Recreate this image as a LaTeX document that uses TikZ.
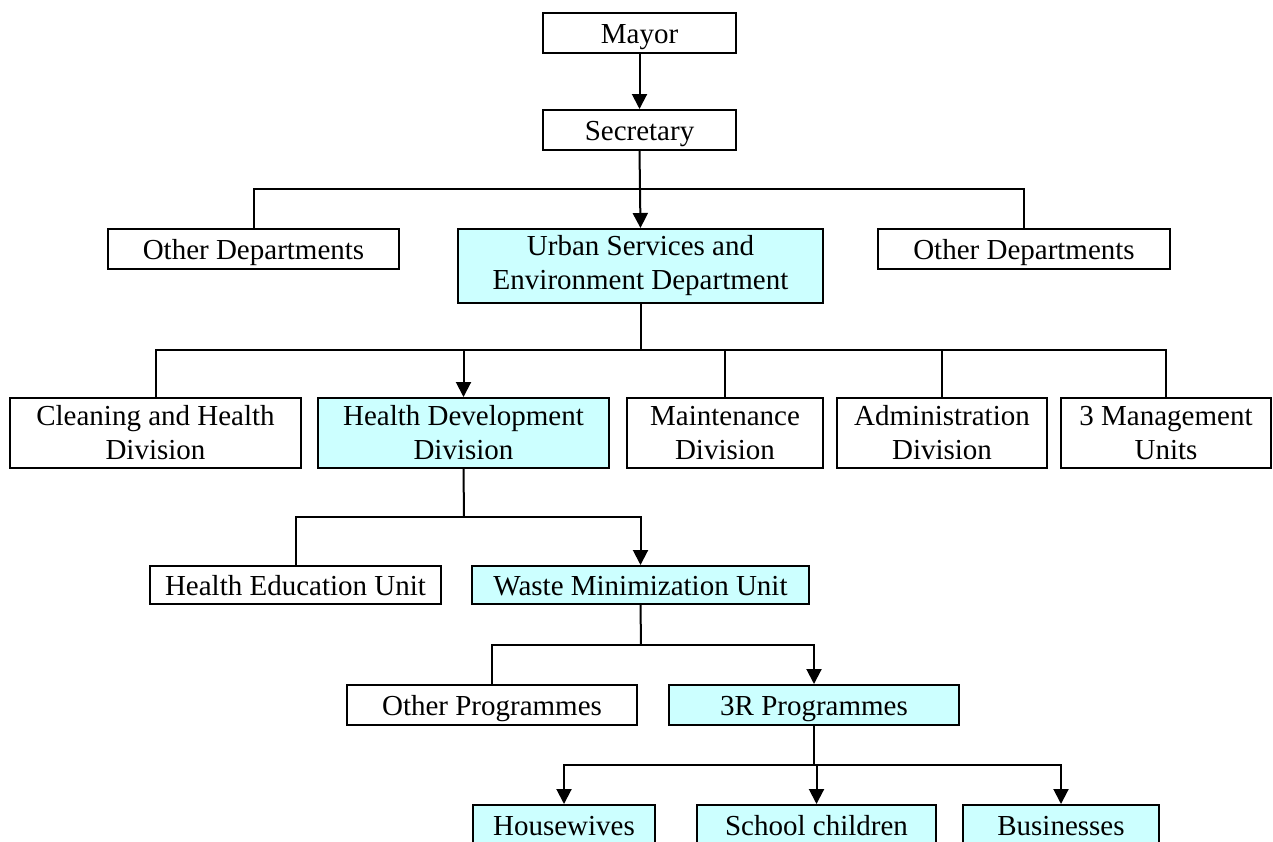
\documentclass[tikz,border=0pt]{standalone}
\usepackage{fontspec}
\setmainfont{Liberation Serif}
\usepackage{tikz}
\usetikzlibrary{arrows.meta}
\usetikzlibrary{positioning}
\definecolor{unitcyan}{RGB}{204,255,255}
\tikzset{box/.style = {draw, line width = 1pt, inner sep = 0, minimum height = 20pt,
                       align = center, font = \fontsize{14.5}{17}\selectfont}}
\tikzset{hl/.style = {box, fill = unitcyan}}
\tikzset{single/.style = {text height = 11pt, text depth = 1pt}}
\tikzset{arr/.style = {-{Triangle[length=7.5pt, width=7.5pt]}}}
\tikzset{link/.style = {line width = 1pt}}

\begin{document}
\begin{tikzpicture}[x = 0.5pt, y = -0.5pt]
      \useasboundingbox (0, 0) rectangle (1273, 841);
      \clip (0, 0) rectangle (1273, 841);
      % top
      \node [box, single, minimum width = 96.5pt] (mayor) at (639.5, 33) {Mayor};
      \node [box, single, minimum width = 96.5pt] (sec) at (639.5, 130) {Secretary};
      % departments
      \node [box, single, minimum width = 145.5pt] (othL) at (253.5, 249) {Other Departments};
      \node [hl, minimum width = 182.5pt, minimum height = 37pt] (urban) at (640.5, 266)
            {Urban Services and\\Environment Department};
      \node [box, single, minimum width = 146pt] (othR) at (1024, 249) {Other Departments};
      % divisions
      \node [box, minimum width = 145.5pt, minimum height = 35pt] (clean) at (155.5, 433)
            {Cleaning and Health\\Division};
      \node [hl, minimum width = 145.5pt, minimum height = 35pt] (hdd) at (463.5, 433)
            {Health Development\\Division};
      \node [box, minimum width = 98pt, minimum height = 35pt] (maint) at (725, 433)
            {Maintenance\\Division};
      \node [box, minimum width = 105pt, minimum height = 35pt] (admin) at (942, 433)
            {Administration\\Division};
      \node [box, minimum width = 105pt, minimum height = 35pt] (mgmt) at (1166, 433)
            {3 Management\\Units};
      % units
      \node [box, single, minimum width = 145.5pt, minimum height = 19pt] (heu) at (295.5, 585)
            {Health Education Unit};
      \node [hl, single, minimum width = 168.5pt, minimum height = 19pt] (wmu) at (640.5, 585)
            {Waste Minimization Unit};
      % programmes
      \node [box, single, minimum width = 145pt] (othp) at (492, 705) {Other Programmes};
      \node [hl, single, minimum width = 145pt] (rprog) at (814, 705) {3R Programmes};
      % target groups
      \node [hl, single, minimum width = 91pt] (hw) at (564, 825) {Housewives};
      \node [hl, single, minimum width = 119.5pt] (sch) at (816.5, 825) {School children};
      \node [hl, single, minimum width = 98pt] (bus) at (1061, 825) {Businesses};
      % bus points
      \coordinate (bar1) at (640, 189);
      \coordinate (bar2) at (640.5, 350);
      \coordinate (bar3) at (464, 517);
      \coordinate (bar4) at (641, 645);
      \coordinate (bar5) at (814, 765);
      \draw [link, arr] (mayor) -- (sec);
      \draw [link, arr] (sec.south) -- (urban.north);
      \draw [link] (othL.north) |- (bar1) -| (othR.north);
      \draw [link] (urban.south) -- (bar2);
      \draw [link] (clean.north) |- (bar2) -| (mgmt.north);
      \draw [link] (maint.north) |- (bar2);
      \draw [link] (admin.north) |- (bar2);
      \draw [link, arr] (hdd.north |- bar2) -- (hdd.north);
      \draw [link] (hdd.south) -- (bar3);
      \draw [link] (heu.north) |- (bar3);
      \draw [link, arr] (bar3) -| (wmu.north);
      \draw [link] (wmu.south) -- (bar4);
      \draw [link] (othp.north) |- (bar4);
      \draw [link, arr] (bar4) -| (rprog.north);
      \draw [link] (rprog.south) -- (bar5);
      \draw [link, arr] (bar5) -| (hw.north);
      \draw [link, arr] (bar5) -| (bus.north);
      \draw [link, arr] (sch.north |- bar5) -- (sch.north);
    \end{tikzpicture}
\end{document}
